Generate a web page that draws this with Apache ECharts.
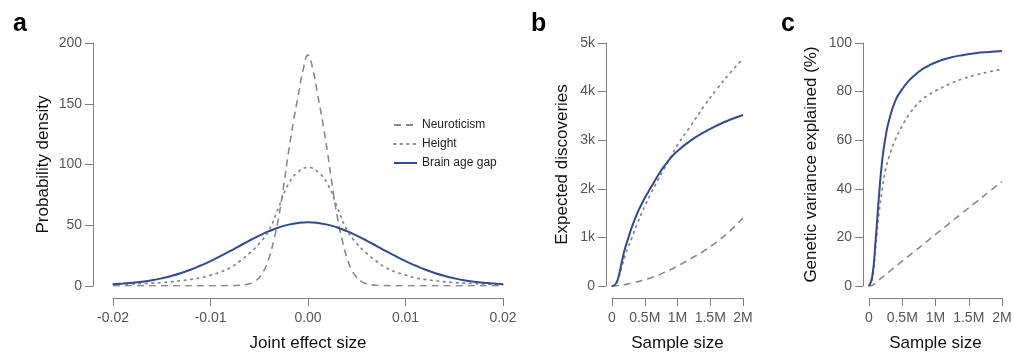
<!DOCTYPE html>
<html>
<head>
<meta charset="utf-8">
<script src="https://cdn.jsdelivr.net/npm/echarts@6/dist/echarts.min.js"></script>
<style>
  html, body { margin: 0; padding: 0; background: #fff; }
  #chart { width: 1013px; height: 354px; }
</style>
</head>
<body>
<div id="chart"></div>
<script>
// panel a: joint effect size densities
const effectX = [-0.02, -0.019, -0.018, -0.017, -0.016, -0.015, -0.014, -0.013, -0.012, -0.011,
  -0.01, -0.009, -0.008, -0.007, -0.006, -0.005, -0.004, -0.003, -0.002, -0.001, 0,
  0.001, 0.002, 0.003, 0.004, 0.005, 0.006, 0.007, 0.008, 0.009, 0.01,
  0.011, 0.012, 0.013, 0.014, 0.015, 0.016, 0.017, 0.018, 0.019, 0.02];
const heightDensity = [1.3, 1.5, 1.7, 2.0, 2.3, 2.8, 3.5, 4.4, 5.4, 6.8,
  9, 11.5, 15, 20.5, 27, 35, 46, 65, 84, 94, 97.5,
  94, 84, 65, 46, 35, 27, 20.5, 15, 11.5, 9,
  6.8, 5.4, 4.4, 3.5, 2.8, 2.3, 2.0, 1.7, 1.5, 1.3];
const brainAgeDensity = [1.5, 2.0, 2.6, 3.5, 4.7, 6.3, 8.3, 10.7, 13.6, 16.9,
  20.5, 24.5, 28.7, 33.1, 37.4, 41.4, 45.1, 48.2, 50.5, 51.9, 52.4,
  51.9, 50.5, 48.2, 45.1, 41.4, 37.4, 33.1, 28.7, 24.5, 20.5,
  16.9, 13.6, 10.7, 8.3, 6.3, 4.7, 3.5, 2.6, 2.0, 1.5];
const neuroX = [-0.02, -0.015, -0.01, -0.008, -0.007, -0.006, -0.0055, -0.005, -0.0045, -0.004,
  -0.0035, -0.003, -0.0025, -0.002, -0.0015, -0.001, -0.0005, 0,
  0.0005, 0.001, 0.0015, 0.002, 0.0025, 0.003, 0.0035, 0.004, 0.0045,
  0.005, 0.0055, 0.006, 0.007, 0.008, 0.01, 0.015, 0.02];
const neuroDensity = [0.2, 0.2, 0.2, 0.3, 0.6, 1.8, 3.6, 7, 13, 23,
  38, 57, 82, 110, 135, 157, 178, 190,
  178, 157, 135, 110, 82, 57, 38, 23, 13,
  7, 3.6, 1.8, 0.6, 0.3, 0.2, 0.2, 0.2];

// panels b and c: sample size in millions
const sampleM = [0, 0.05, 0.1, 0.15, 0.2, 0.25, 0.3, 0.4, 0.5, 0.6, 0.7, 0.8, 0.9, 1.0, 1.2, 1.4, 1.6, 1.8, 2.0];
const discNeuro = [0, 0, 10, 20, 30, 45, 60, 90, 130, 170, 220, 280, 340, 410, 560, 720, 910, 1130, 1400];
const discHeight = [0, 20, 170, 390, 620, 810, 980, 1330, 1640, 1920, 2180, 2420, 2660, 2900, 3290, 3690, 4050, 4380, 4680];
const discBrain = [0, 30, 190, 500, 780, 990, 1200, 1540, 1810, 2040, 2270, 2470, 2640, 2780, 2990, 3160, 3300, 3420, 3520];
const varNeuro = [0, 0.3, 1.3, 2.5, 3.6, 4.7, 5.8, 8, 10.2, 12.4, 14.6, 16.8, 19, 21.2, 25.6, 30, 34.3, 38.7, 43];
const varHeight = [0, 3, 16, 30, 40, 48, 53, 60.5, 66, 70.5, 74, 76.8, 78.7, 80.3, 83, 85.2, 86.8, 88.1, 89.2];
const varBrain = [0, 4, 19, 37, 52, 61.5, 68, 76.5, 81, 84.5, 87, 89.2, 90.7, 92, 93.8, 95, 95.8, 96.3, 96.7];

const seriesNames = ['Neuroticism', 'Height', 'Brain age gap'];

const FONT = 'Liberation Sans, Arial, sans-serif';
const BLUE = '#2e4a9a';
const GREY = '#8a8a8a';
const AXIS = '#808080';

const pairs = (xs, ys) => xs.map((x, i) => [x, ys[i]]);

function xAxisBase(gridIndex, name, min, max, interval, fmt) {
  return {
    type: 'value', gridIndex, min, max, interval,
    offset: 12,
    name, nameLocation: 'middle', nameGap: 37,
    nameTextStyle: { fontSize: 17, color: '#111', fontFamily: FONT },
    axisLine: { show: true, onZero: false, lineStyle: { color: AXIS, width: 1 } },
    axisTick: { show: true, length: 8, lineStyle: { color: AXIS } },
    axisLabel: { fontSize: 14, color: '#555', fontFamily: FONT, margin: 13, formatter: fmt },
    splitLine: { show: false }
  };
}

function yAxisBase(gridIndex, name, max, interval, offset, nameGap, fmt) {
  return {
    type: 'value', gridIndex, min: 0, max, interval,
    offset,
    name, nameLocation: 'middle', nameGap,
    nameTextStyle: { fontSize: 17, color: '#111', fontFamily: FONT },
    axisLine: { show: true, onZero: false, lineStyle: { color: AXIS, width: 1 } },
    axisTick: { show: true, length: 8, lineStyle: { color: AXIS } },
    axisLabel: { fontSize: 14, color: '#555', fontFamily: FONT, margin: 11, formatter: fmt },
    splitLine: { show: false }
  };
}

const millions = v => (v === 0 ? '0' : v + 'M');

function line(name, xi, data, kind) {
  const styles = {
    dash: { color: GREY, width: 1.6, type: [7, 5] },
    dot: { color: GREY, width: 1.8, type: [1.5, 5], cap: 'round' },
    solid: { color: BLUE, width: 2 }
  };
  return {
    name, type: 'line', xAxisIndex: xi, yAxisIndex: xi,
    data, symbol: 'none', smooth: 0.5,
    itemStyle: { color: kind === 'solid' ? BLUE : GREY },
    lineStyle: styles[kind],
    silent: true
  };
}

const chart = echarts.init(document.getElementById('chart'), null, { renderer: 'canvas' });

chart.setOption({
  animation: false,
  backgroundColor: '#fff',
  textStyle: { fontFamily: FONT },
  graphic: [
    { type: 'text', left: 13, top: 12, style: { text: 'a', font: 'bold 25px ' + FONT, fill: '#000' } },
    { type: 'text', left: 531, top: 12, style: { text: 'b', font: 'bold 25px ' + FONT, fill: '#000' } },
    { type: 'text', left: 781, top: 12, style: { text: 'c', font: 'bold 25px ' + FONT, fill: '#000' } }
  ],
  legend: {
    data: seriesNames,
    orient: 'vertical',
    left: 388, top: 114,
    itemWidth: 23, itemHeight: 14, itemGap: 7,
    itemStyle: { opacity: 0 },
    textStyle: { fontSize: 12, color: '#222', fontFamily: FONT },
    selectedMode: false
  },
  grid: [
    { left: 113, top: 43, width: 390, height: 243, outerBoundsMode: 'none' },
    { left: 612, top: 43, width: 131, height: 243, outerBoundsMode: 'none' },
    { left: 869, top: 43, width: 133, height: 243, outerBoundsMode: 'none' }
  ],
  xAxis: [
    xAxisBase(0, 'Joint effect size', -0.02, 0.02, 0.01, v => v.toFixed(2)),
    xAxisBase(1, 'Sample size', 0, 2, 0.5, millions),
    xAxisBase(2, 'Sample size', 0, 2, 0.5, millions)
  ],
  yAxis: [
    yAxisBase(0, 'Probability density', 200, 50, 20, 41, v => String(v)),
    yAxisBase(1, 'Expected discoveries', 5000, 1000, 6, 35, v => (v === 0 ? '0' : v / 1000 + 'k')),
    yAxisBase(2, 'Genetic variance explained (%)', 100, 20, 6, 43, v => String(v))
  ],
  series: [
    line('Neuroticism', 0, pairs(neuroX, neuroDensity), 'dash'),
    line('Height', 0, pairs(effectX, heightDensity), 'dot'),
    line('Brain age gap', 0, pairs(effectX, brainAgeDensity), 'solid'),
    line('Neuroticism', 1, pairs(sampleM, discNeuro), 'dash'),
    line('Height', 1, pairs(sampleM, discHeight), 'dot'),
    line('Brain age gap', 1, pairs(sampleM, discBrain), 'solid'),
    line('Neuroticism', 2, pairs(sampleM, varNeuro), 'dash'),
    line('Height', 2, pairs(sampleM, varHeight), 'dot'),
    line('Brain age gap', 2, pairs(sampleM, varBrain), 'solid')
  ]
});
</script>
</body>
</html>
